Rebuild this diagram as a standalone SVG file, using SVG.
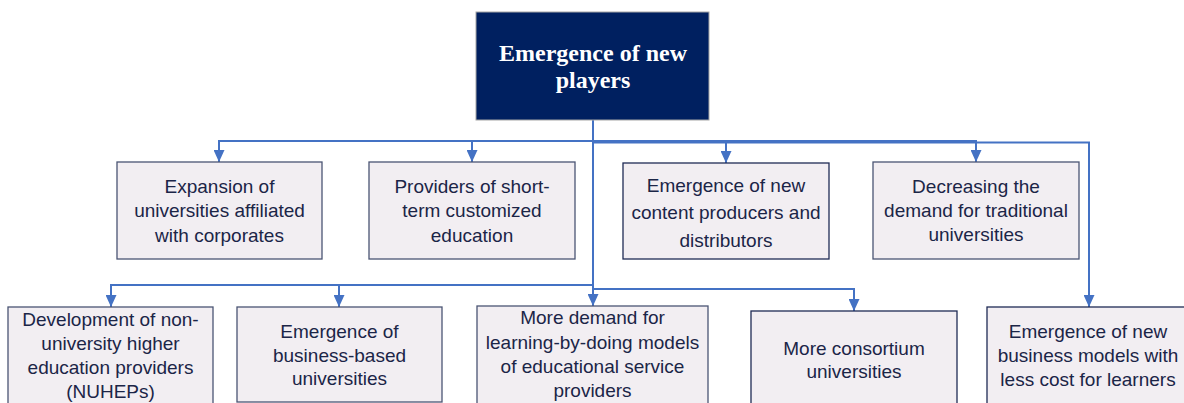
<svg xmlns="http://www.w3.org/2000/svg" width="1184" height="403" viewBox="0 0 1184 403">
<style>
.box{fill:#F2EEF2;stroke:#4A5573;stroke-width:1.3}
.box2{fill:#F2EEF2;stroke:#1F2B55;stroke-width:1.3}
.t{font-family:"Liberation Sans",Arial,sans-serif;font-size:19px;fill:#1B2547;text-anchor:middle}
.h{font-family:"Liberation Serif","Times New Roman",serif;font-size:24px;font-weight:bold;fill:#FFFFFF;text-anchor:middle}
.c{fill:none;stroke:#4472C4;stroke-width:2}
</style>
<defs>
<marker id="arr" viewBox="0 0 12 11" refX="12" refY="5.5" markerWidth="12" markerHeight="11" markerUnits="userSpaceOnUse" orient="auto">
<path d="M0,0 L12,5.5 L0,11 z" fill="#4472C4"/>
</marker>
</defs>
<rect width="1184" height="403" fill="#FFFFFF"/>
<g id="connectors">
<path class="c" d="M593,120 V141 H219 V162" marker-end="url(#arr)"/>
<path class="c" d="M593,141 H472 V162" marker-end="url(#arr)"/>
<path class="c" d="M593,141 H726 V163" marker-end="url(#arr)"/>
<path class="c" d="M593,141 H976 V162" marker-end="url(#arr)"/>
<path class="c" d="M593,142.5 H1089 V307" marker-end="url(#arr)"/>
<path class="c" d="M593,141 V285 H111 V307" marker-end="url(#arr)"/>
<path class="c" d="M593,285 H339 V307" marker-end="url(#arr)"/>
<path class="c" d="M593,141 V306" marker-end="url(#arr)"/>
<path class="c" d="M593,289 H854 V311" marker-end="url(#arr)"/>
</g>
<g id="root">
<rect x="476" y="12" width="233" height="108" fill="#002060" stroke="#A6A6A6" stroke-width="1"/>
<text class="h" x="593" y="61">Emergence of new</text>
<text class="h" x="593" y="88">players</text>
</g>
<g id="n1">
<rect class="box" x="117" y="162" width="205" height="97"/>
<text class="t" x="219.5" y="193">Expansion of</text>
<text class="t" x="219.5" y="217">universities affiliated</text>
<text class="t" x="219.5" y="242">with corporates</text>
</g>
<g id="n2">
<rect class="box" x="369" y="162" width="206" height="97"/>
<text class="t" x="472" y="193">Providers of short-</text>
<text class="t" x="472" y="217">term customized</text>
<text class="t" x="472" y="242">education</text>
</g>
<g id="n3">
<rect class="box2" x="623" y="163" width="206" height="96"/>
<text class="t" x="726" y="192">Emergence of  new</text>
<text class="t" x="726" y="219">content producers and</text>
<text class="t" x="726" y="247">distributors</text>
</g>
<g id="n4">
<rect class="box" x="873" y="162" width="206" height="97"/>
<text class="t" x="976" y="193">Decreasing the</text>
<text class="t" x="976" y="217">demand for traditional</text>
<text class="t" x="976" y="241">universities</text>
</g>
<g id="n5">
<rect class="box" x="8" y="307" width="205" height="100"/>
<text class="t" x="110.5" y="326">Development of non-</text>
<text class="t" x="110.5" y="350">university higher</text>
<text class="t" x="110.5" y="374">education providers</text>
<text class="t" x="110.5" y="398">(NUHEPs)</text>
</g>
<g id="n6">
<rect class="box" x="237" y="307" width="205" height="95"/>
<text class="t" x="339.5" y="338">Emergence of</text>
<text class="t" x="339.5" y="362">business-based</text>
<text class="t" x="339.5" y="385">universities</text>
</g>
<g id="n7">
<rect class="box" x="477" y="306" width="231" height="100"/>
<text class="t" x="592.5" y="324">More demand for</text>
<text class="t" x="592.5" y="349">learning-by-doing models</text>
<text class="t" x="592.5" y="373">of educational service</text>
<text class="t" x="592.5" y="397">providers</text>
</g>
<g id="n8">
<rect class="box2" x="751" y="311" width="206" height="96"/>
<text class="t" x="854" y="355">More consortium</text>
<text class="t" x="854" y="378">universities</text>
</g>
<g id="n9">
<rect class="box2" x="987" y="307" width="204" height="100"/>
<text class="t" x="1088" y="338">Emergence of new</text>
<text class="t" x="1088" y="362">business models with</text>
<text class="t" x="1088" y="386">less cost for learners</text>
</g>
</svg>
